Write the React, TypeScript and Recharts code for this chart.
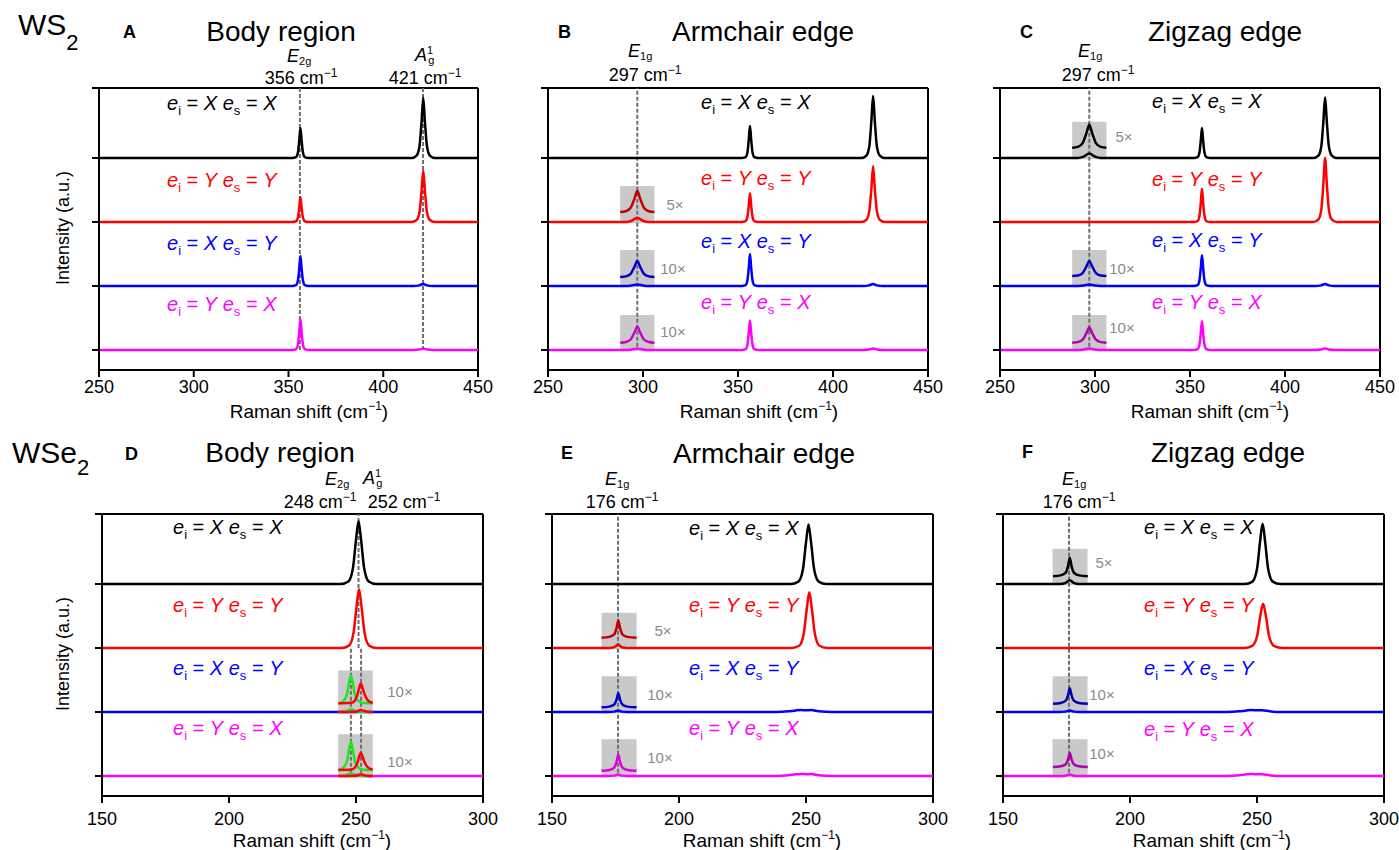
import React from "react";
import { LineChart, Line, XAxis, YAxis, ReferenceArea, ReferenceLine } from "recharts";

type Pt = [number, number];

const FONT = '"Liberation Sans", Arial, Helvetica, sans-serif';

// trace order top -> bottom: XX, YY, XY, YX
const OFFSETS = [3, 2, 1, 0];
const COLORS = ["#000000", "#ff0000", "#0000ff", "#ff00ff"];
const POLS: [string, string][] = [["X", "X"], ["Y", "Y"], ["X", "Y"], ["Y", "X"]];
const Y_MIN = -0.3125;
const Y_MAX = 4.094;
const Y_TICKS = [0, 1, 2, 3, Y_MAX];

const WS2_TICKS = [250, 300, 350, 400, 450];
const WSE2_TICKS = [150, 200, 250, 300];

const WS2_BODY_PEAKS = [356, 421];
const WS2_EDGE_PEAK = 297;
const WSE2_BODY_MAIN = 251;
const WSE2_BODY_PEAKS = [248, 252];
const WSE2_EDGE_PEAK = 176;

// ---- WS2 body (A)
const A_XX: Pt[] = [[250,0],[352,0],[354,0.014],[355,0.089],[355.7,0.28],[356.3,0.47],[356.9,0.28],[357.6,0.089],[358.6,0.014],[360.6,0],[415,0],[417.6,0.038],[419.1,0.18],[420.2,0.56],[421.1,0.94],[422,0.56],[423.1,0.18],[424.6,0.038],[427.2,0],[450,0]];
const A_YY: Pt[] = [[250,0],[352,0],[354,0.012],[355,0.074],[355.7,0.23],[356.3,0.39],[356.9,0.23],[357.6,0.074],[358.6,0.012],[360.6,0],[415,0],[417.6,0.032],[419.1,0.15],[420.2,0.48],[421.1,0.8],[422,0.48],[423.1,0.15],[424.6,0.032],[427.2,0],[450,0]];
const A_XY: Pt[] = [[250,0],[352,0],[354,0.014],[355,0.089],[355.7,0.28],[356.3,0.47],[356.9,0.28],[357.6,0.089],[358.6,0.014],[360.6,0],[416,0],[419,0.01],[421.1,0.03],[423.2,0.01],[426,0],[450,0]];
const A_YX: Pt[] = [[250,0],[352,0],[354,0.014],[355,0.09],[355.7,0.29],[356.3,0.48],[356.9,0.29],[357.6,0.09],[358.6,0.014],[360.6,0],[416,0],[419,0.007],[421.1,0.02],[423.2,0.007],[426,0],[450,0]];

// ---- WS2 armchair edge (B)
const B_XX: Pt[] = [[250,0],[352,0],[354,0.015],[355,0.095],[355.7,0.3],[356.3,0.5],[356.9,0.3],[357.6,0.095],[358.6,0.015],[360.6,0],[415,0],[417.6,0.039],[419.1,0.18],[420.2,0.58],[421.1,0.97],[422,0.58],[423.1,0.18],[424.6,0.039],[427.2,0],[450,0]];
const B_YY: Pt[] = [[250,0],[291,0],[294,0.02],[297,0.066],[300,0.02],[303,0],[352,0],[354,0.014],[355,0.086],[355.7,0.27],[356.3,0.45],[356.9,0.27],[357.6,0.086],[358.6,0.014],[360.6,0],[415,0],[417.6,0.035],[419.1,0.17],[420.2,0.52],[421.1,0.875],[422,0.52],[423.1,0.17],[424.6,0.035],[427.2,0],[450,0]];
const B_XY: Pt[] = [[250,0],[291,0],[294,0.008],[297,0.025],[300,0.008],[303,0],[352,0],[354,0.015],[355,0.095],[355.7,0.3],[356.3,0.5],[356.9,0.3],[357.6,0.095],[358.6,0.015],[360.6,0],[416,0],[419,0.01],[421.1,0.03],[423.2,0.01],[426,0],[450,0]];
const B_YX: Pt[] = [[250,0],[291,0],[294,0.008],[297,0.025],[300,0.008],[303,0],[352,0],[354,0.014],[355,0.087],[355.7,0.28],[356.3,0.46],[356.9,0.28],[357.6,0.087],[358.6,0.014],[360.6,0],[416,0],[419,0.008],[421.1,0.025],[423.2,0.008],[426,0],[450,0]];
const B_YY_5X: Pt[] = [[288,0],[291,0.013],[293.5,0.066],[295.5,0.21],[297,0.33],[298.5,0.21],[300.5,0.066],[303,0.013],[306,0]];
const B_XY_10X: Pt[] = [[288,0],[291,0.01],[293.5,0.05],[295.5,0.16],[297,0.25],[298.5,0.16],[300.5,0.05],[303,0.01],[306,0]];
const B_YX_10X: Pt[] = [[288,0],[291,0.01],[293.5,0.05],[295.5,0.16],[297,0.25],[298.5,0.16],[300.5,0.05],[303,0.01],[306,0]];

// ---- WS2 zigzag edge (C)
const C_XX: Pt[] = [[250,0],[291,0],[294,0.022],[297,0.07],[300,0.022],[303,0],[352,0],[354,0.014],[355,0.089],[355.7,0.28],[356.3,0.47],[356.9,0.28],[357.6,0.089],[358.6,0.014],[360.6,0],[415,0],[417.6,0.038],[419.1,0.18],[420.2,0.57],[421.1,0.95],[422,0.57],[423.1,0.18],[424.6,0.038],[427.2,0],[450,0]];
const C_YY: Pt[] = [[250,0],[352,0],[354,0.016],[355,0.099],[355.7,0.31],[356.3,0.52],[356.9,0.31],[357.6,0.099],[358.6,0.016],[360.6,0],[415,0],[417.6,0.04],[419.1,0.19],[420.2,0.6],[421.1,1.0],[422,0.6],[423.1,0.19],[424.6,0.04],[427.2,0],[450,0]];
const C_XY: Pt[] = [[250,0],[291,0],[294,0.007],[297,0.023],[300,0.007],[303,0],[352,0],[354,0.014],[355,0.091],[355.7,0.29],[356.3,0.48],[356.9,0.29],[357.6,0.091],[358.6,0.014],[360.6,0],[416,0],[419,0.01],[421.1,0.03],[423.2,0.01],[426,0],[450,0]];
const C_YX: Pt[] = [[250,0],[291,0],[294,0.008],[297,0.024],[300,0.008],[303,0],[352,0],[354,0.014],[355,0.086],[355.7,0.27],[356.3,0.45],[356.9,0.27],[357.6,0.086],[358.6,0.014],[360.6,0],[416,0],[419,0.008],[421.1,0.025],[423.2,0.008],[426,0],[450,0]];
const C_XX_5X: Pt[] = [[288,0],[291,0.014],[293.5,0.072],[295.5,0.23],[297,0.36],[298.5,0.23],[300.5,0.072],[303,0.014],[306,0]];
const C_XY_10X: Pt[] = [[288,0],[291,0.009],[293.5,0.047],[295.5,0.15],[297,0.234],[298.5,0.15],[300.5,0.047],[303,0.009],[306,0]];
const C_YX_10X: Pt[] = [[288,0],[291,0.009],[293.5,0.047],[295.5,0.15],[297,0.236],[298.5,0.15],[300.5,0.047],[303,0.009],[306,0]];

// ---- WSe2 body (D)
const D_XX: Pt[] = [[150,0],[244,0],[247,0.04],[248.8,0.25],[250,0.69],[251,0.98],[252,0.69],[253.2,0.25],[255,0.04],[258,0],[300,0]];
const D_YY: Pt[] = [[150,0],[244.2,0],[247.2,0.037],[249,0.23],[250.2,0.64],[251.2,0.92],[252.2,0.64],[253.4,0.23],[255.2,0.037],[258.2,0],[300,0]];
const D_XY: Pt[] = [[150,0],[300,0]];
const D_YX: Pt[] = [[150,0],[300,0]];
const D_XY_E2G: Pt[] = [[243,0],[245.5,0.006],[247,0.03],[248,0.044],[249,0.03],[250.5,0.006],[253,0],[256.6,0]];
const D_XY_A1G: Pt[] = [[243,0],[249.5,0.004],[251,0.022],[251.9,0.031],[252.8,0.022],[254.5,0.004],[256.6,0]];
const D_YX_E2G: Pt[] = [[243,0],[245.5,0.006],[247,0.03],[248,0.044],[249,0.03],[250.5,0.006],[253,0],[256.6,0]];
const D_YX_A1G: Pt[] = [[243,0],[249.5,0.004],[251,0.019],[251.9,0.027],[252.8,0.019],[254.5,0.004],[256.6,0]];
const D_XY_E2G_10X: Pt[] = [[243,0],[245,0.035],[246.5,0.15],[247.3,0.33],[248,0.435],[248.7,0.33],[249.5,0.15],[251,0.035],[253,0.004],[256.6,0]];
const D_XY_A1G_10X: Pt[] = [[243,0],[248,0.008],[249.5,0.04],[250.6,0.14],[251.3,0.25],[251.9,0.31],[252.5,0.25],[253.4,0.14],[254.8,0.04],[256.6,0.008]];
const D_YX_E2G_10X: Pt[] = [[243,0],[245,0.035],[246.5,0.15],[247.3,0.33],[248,0.44],[248.7,0.33],[249.5,0.15],[251,0.035],[253,0.004],[256.6,0]];
const D_YX_A1G_10X: Pt[] = [[243,0],[248,0.007],[249.5,0.035],[250.6,0.12],[251.3,0.22],[251.9,0.27],[252.5,0.22],[253.4,0.12],[254.8,0.035],[256.6,0.007]];

// ---- WSe2 armchair edge (E)
const E_XX: Pt[] = [[150,0],[244,0],[247,0.037],[248.8,0.23],[250,0.65],[251,0.93],[252,0.65],[253.2,0.23],[255,0.037],[258,0],[300,0]];
const E_YY: Pt[] = [[150,0],[172.5,0],[174.5,0.012],[176,0.054],[177.5,0.012],[179.5,0],[244.3,0],[247.3,0.035],[249.1,0.22],[250.3,0.61],[251.3,0.87],[252.3,0.61],[253.5,0.22],[255.3,0.035],[258.3,0],[300,0]];
const E_XY: Pt[] = [[150,0],[172.5,0],[174.5,0.006],[176,0.023],[177.5,0.006],[179.5,0],[238,0],[243,0.01],[246,0.025],[248,0.03],[250,0.028],[252,0.03],[255,0.012],[260,0],[300,0]];
const E_YX: Pt[] = [[150,0],[172.5,0],[174.5,0.006],[176,0.025],[177.5,0.006],[179.5,0],[238,0],[243,0.01],[246,0.026],[248,0.032],[250,0.028],[252,0.03],[255,0.012],[260,0],[300,0]];
const E_YY_5X: Pt[] = [[169.5,0],[172.5,0.014],[174.5,0.054],[175.4,0.15],[176.1,0.27],[176.8,0.15],[177.7,0.054],[179.7,0.014],[183.3,0]];
const E_XY_10X: Pt[] = [[169.5,0],[172.5,0.011],[174.5,0.044],[175.4,0.12],[176.1,0.22],[176.8,0.12],[177.7,0.044],[179.7,0.011],[183.3,0]];
const E_YX_10X: Pt[] = [[169.5,0],[172.5,0.012],[174.5,0.05],[175.4,0.14],[176.1,0.25],[176.8,0.14],[177.7,0.05],[179.7,0.012],[183.3,0]];

// ---- WSe2 zigzag edge (F)
const F_XX: Pt[] = [[150,0],[172.5,0],[174.5,0.013],[176.3,0.058],[178,0.013],[180,0],[245.2,0],[248.2,0.038],[250,0.235],[251.2,0.66],[252.2,0.94],[253.2,0.66],[254.4,0.235],[256.2,0.038],[259.2,0],[300,0]];
const F_YY: Pt[] = [[150,0],[245,0],[248,0.03],[250,0.18],[251.3,0.5],[252.4,0.69],[253.5,0.5],[254.8,0.18],[256.8,0.03],[260,0],[300,0]];
const F_XY: Pt[] = [[150,0],[172.5,0],[174.5,0.006],[176.3,0.024],[178,0.006],[180,0],[238,0],[243,0.01],[246,0.025],[248,0.03],[250,0.026],[252,0.028],[255,0.01],[260,0],[300,0]];
const F_YX: Pt[] = [[150,0],[172.5,0],[174.5,0.005],[176.3,0.022],[178,0.005],[180,0],[238,0],[243,0.01],[246,0.026],[248,0.031],[250,0.026],[252,0.028],[255,0.01],[260,0],[300,0]];
const F_XX_5X: Pt[] = [[169.7,0],[172.7,0.015],[174.7,0.058],[175.6,0.16],[176.3,0.29],[177,0.16],[177.9,0.058],[179.9,0.015],[183.4,0]];
const F_XY_10X: Pt[] = [[169.7,0],[172.7,0.012],[174.7,0.048],[175.6,0.13],[176.3,0.24],[177,0.13],[177.9,0.048],[179.9,0.012],[183.4,0]];
const F_YX_10X: Pt[] = [[169.7,0],[172.7,0.011],[174.7,0.044],[175.6,0.12],[176.3,0.22],[177,0.12],[177.9,0.044],[179.9,0.011],[183.4,0]];

interface Box { trace: number; x1: number; x2: number; h: number }
interface Extra { trace: number; data: Pt[]; color: string; lift: number }
interface Dash { x: number; y1: number; y2: number }
interface PanelDef {
  left: number; top: number; width: number; height: number;
  xDomain: [number, number]; xTicks: number[]; tickMargin: number;
  traces: Pt[][]; boxes: Box[]; extras: Extra[]; dashes: Dash[];
}

const WS2_BOX: [number, number] = [288, 306];
const WSE2_BOX: [number, number] = [169.5, 183.3];
const WSE2_BODY_BOX: [number, number] = [243, 256.6];

const PANELS: PanelDef[] = [
  {
    left: 99, top: 88, width: 379, height: 282, xDomain: [250, 450], xTicks: WS2_TICKS, tickMargin: 3,
    traces: [A_XX, A_YY, A_XY, A_YX], boxes: [], extras: [],
    dashes: WS2_BODY_PEAKS.map((x) => ({ x, y1: 0, y2: Y_MAX })),
  },
  {
    left: 548, top: 88, width: 380, height: 282, xDomain: [250, 450], xTicks: WS2_TICKS, tickMargin: 3,
    traces: [B_XX, B_YY, B_XY, B_YX],
    boxes: [
      { trace: 1, x1: WS2_BOX[0], x2: WS2_BOX[1], h: 0.5625 },
      { trace: 2, x1: WS2_BOX[0], x2: WS2_BOX[1], h: 0.5625 },
      { trace: 3, x1: WS2_BOX[0], x2: WS2_BOX[1], h: 0.547 },
    ],
    extras: [
      { trace: 1, data: B_YY_5X, color: "#c00000", lift: 0.156 },
      { trace: 2, data: B_XY_10X, color: "#0000c8", lift: 0.14 },
      { trace: 3, data: B_YX_10X, color: "#cc00cc", lift: 0.114 },
    ],
    dashes: [{ x: WS2_EDGE_PEAK, y1: 0.05, y2: Y_MAX }],
  },
  {
    left: 1000, top: 88, width: 380, height: 282, xDomain: [250, 450], xTicks: WS2_TICKS, tickMargin: 3,
    traces: [C_XX, C_YY, C_XY, C_YX],
    boxes: [
      { trace: 0, x1: WS2_BOX[0], x2: WS2_BOX[1], h: 0.567 },
      { trace: 2, x1: WS2_BOX[0], x2: WS2_BOX[1], h: 0.5625 },
      { trace: 3, x1: WS2_BOX[0], x2: WS2_BOX[1], h: 0.547 },
    ],
    extras: [
      { trace: 0, data: C_XX_5X, color: "#000000", lift: 0.16 },
      { trace: 2, data: C_XY_10X, color: "#0000c8", lift: 0.156 },
      { trace: 3, data: C_YX_10X, color: "#b000b0", lift: 0.114 },
    ],
    dashes: [{ x: WS2_EDGE_PEAK, y1: 0.05, y2: Y_MAX }],
  },
  {
    left: 102, top: 514, width: 381, height: 282, xDomain: [150, 300], xTicks: WSE2_TICKS, tickMargin: 9,
    traces: [D_XX, D_YY, D_XY, D_YX],
    boxes: [
      { trace: 2, x1: WSE2_BODY_BOX[0], x2: WSE2_BODY_BOX[1], h: 0.65 },
      { trace: 3, x1: WSE2_BODY_BOX[0], x2: WSE2_BODY_BOX[1], h: 0.653 },
    ],
    extras: [
      { trace: 2, data: D_XY_E2G, color: "#1ee61e", lift: 0 },
      { trace: 2, data: D_XY_A1G, color: "#ff0000", lift: 0 },
      { trace: 3, data: D_YX_E2G, color: "#1ee61e", lift: 0 },
      { trace: 3, data: D_YX_A1G, color: "#ff0000", lift: 0 },
      { trace: 2, data: D_XY_E2G_10X, color: "#1ee61e", lift: 0.135 },
      { trace: 2, data: D_XY_A1G_10X, color: "#ff0000", lift: 0.135 },
      { trace: 3, data: D_YX_E2G_10X, color: "#1ee61e", lift: 0.093 },
      { trace: 3, data: D_YX_A1G_10X, color: "#ff0000", lift: 0.093 },
    ],
    dashes: [
      { x: WSE2_BODY_MAIN, y1: 2, y2: Y_MAX },
      ...WSE2_BODY_PEAKS.map((x) => ({ x, y1: 0.05, y2: 2 })),
    ],
  },
  {
    left: 552, top: 514, width: 381, height: 282, xDomain: [150, 300], xTicks: WSE2_TICKS, tickMargin: 9,
    traces: [E_XX, E_YY, E_XY, E_YX],
    boxes: [
      { trace: 1, x1: WSE2_BOX[0], x2: WSE2_BOX[1], h: 0.55 },
      { trace: 2, x1: WSE2_BOX[0], x2: WSE2_BOX[1], h: 0.56 },
      { trace: 3, x1: WSE2_BOX[0], x2: WSE2_BOX[1], h: 0.575 },
    ],
    extras: [
      { trace: 1, data: E_YY_5X, color: "#c00000", lift: 0.16 },
      { trace: 2, data: E_XY_10X, color: "#0000c8", lift: 0.073 },
      { trace: 3, data: E_YX_10X, color: "#e000e0", lift: 0.082 },
    ],
    dashes: [{ x: WSE2_EDGE_PEAK, y1: 0.05, y2: Y_MAX }],
  },
  {
    left: 1003, top: 514, width: 381, height: 282, xDomain: [150, 300], xTicks: WSE2_TICKS, tickMargin: 9,
    traces: [F_XX, F_YY, F_XY, F_YX],
    boxes: [
      { trace: 0, x1: WSE2_BOX[0], x2: WSE2_BOX[1], h: 0.55 },
      { trace: 2, x1: WSE2_BOX[0], x2: WSE2_BOX[1], h: 0.56 },
      { trace: 3, x1: WSE2_BOX[0], x2: WSE2_BOX[1], h: 0.575 },
    ],
    extras: [
      { trace: 0, data: F_XX_5X, color: "#000000", lift: 0.12 },
      { trace: 2, data: F_XY_10X, color: "#0000b0", lift: 0.13 },
      { trace: 3, data: F_YX_10X, color: "#b000b0", lift: 0.14 },
    ],
    dashes: [{ x: WSE2_EDGE_PEAK, y1: 0.05, y2: Y_MAX }],
  },
];

const shift = (pts: Pt[], dy: number) => pts.map(([x, y]) => ({ x, y: y + dy }));

function Panel({ p }: { p: PanelDef }) {
  const axisStyle = { stroke: "#000", strokeWidth: 2 };
  return (
    <div style={{ position: "absolute", left: p.left - 60, top: p.top - 10 }}>
      <LineChart
        width={p.width + 80}
        height={p.height + 70}
        margin={{ top: 10, right: 20, bottom: 0, left: 0 }}
      >
        <XAxis
          type="number"
          dataKey="x"
          domain={p.xDomain}
          ticks={p.xTicks}
          interval={0}
          allowDataOverflow
          height={60}
          axisLine={axisStyle}
          tickLine={axisStyle}
          tickSize={7}
          tickMargin={p.tickMargin}
          tick={{ fill: "#000", fontSize: 18, fontFamily: FONT }}
        />
        <YAxis
          type="number"
          domain={[Y_MIN, Y_MAX]}
          ticks={Y_TICKS}
          interval={0}
          allowDataOverflow
          width={60}
          axisLine={axisStyle}
          tickLine={axisStyle}
          tickSize={7}
          tickFormatter={() => ""}
        />
        <ReferenceLine y={Y_MAX} stroke="#000" strokeWidth={2} />
        <ReferenceLine x={p.xDomain[1]} stroke="#000" strokeWidth={2} />
        {p.boxes.map((b, i) => (
          <ReferenceArea
            key={"box" + i}
            x1={b.x1}
            x2={b.x2}
            y1={OFFSETS[b.trace] - 0.02}
            y2={OFFSETS[b.trace] + b.h}
            fill="#c9c9c9"
            fillOpacity={1}
            stroke="none"
          />
        ))}
        {p.dashes.map((d, i) => (
          <Line
            key={"dash" + i}
            data={[{ x: d.x, y: d.y1 }, { x: d.x, y: d.y2 }]}
            dataKey="y"
            type="linear"
            stroke="#6e6e6e"
            strokeWidth={2}
            strokeDasharray="4 2"
            dot={false}
            activeDot={false}
            isAnimationActive={false}
          />
        ))}
        {p.traces.map((t, i) => (
          <Line
            key={"tr" + i}
            data={shift(t, OFFSETS[i])}
            dataKey="y"
            type="monotone"
            stroke={COLORS[i]}
            strokeWidth={2.5}
            dot={false}
            activeDot={false}
            isAnimationActive={false}
          />
        ))}
        {p.extras.map((e, i) => (
          <Line
            key={"ex" + i}
            data={shift(e.data, OFFSETS[e.trace] + e.lift)}
            dataKey="y"
            type="monotone"
            stroke={e.color}
            strokeWidth={2.5}
            dot={false}
            activeDot={false}
            isAnimationActive={false}
          />
        ))}
      </LineChart>
    </div>
  );
}

function Pol({ x, y, i }: { x: number; y: number; i: number }) {
  const [a, b] = POLS[i];
  return (
    <text x={x} y={y} fill={COLORS[i]} fontSize={20} fontFamily={FONT}>
      <tspan fontStyle="italic">e</tspan>
      <tspan fontSize={13} dy={5}>i</tspan>
      <tspan dy={-5}>{" = "}</tspan>
      <tspan fontStyle="italic">{a}</tspan>
      <tspan>{" "}</tspan>
      <tspan fontStyle="italic">e</tspan>
      <tspan fontSize={13} dy={5}>s</tspan>
      <tspan dy={-5}>{" = "}</tspan>
      <tspan fontStyle="italic">{b}</tspan>
    </text>
  );
}

function Wn({ x, y, v }: { x: number; y: number; v: number }) {
  return (
    <text x={x} y={y} textAnchor="middle" fontSize={18} fontFamily={FONT}>
      {v} cm<tspan fontSize={12} dy={-7}>−1</tspan>
    </text>
  );
}

function Mode({ x, y, sub }: { x: number; y: number; sub: string }) {
  return (
    <text x={x} y={y} fontSize={18} fontFamily={FONT}>
      <tspan fontStyle="italic">E</tspan>
      <tspan fontSize={11} dy={3}>{sub}</tspan>
    </text>
  );
}

function A1g({ x, y }: { x: number; y: number }) {
  return (
    <text x={x} y={y} fontSize={18} fontFamily={FONT}>
      <tspan fontStyle="italic">A</tspan>
      <tspan fontSize={11} dy={-7}>1</tspan>
      <tspan fontSize={11} dx={-5} dy={10}>g</tspan>
    </text>
  );
}

const POL_POS: { x: number; ys: number[] }[] = [
  { x: 167, ys: [110, 187, 250, 311] },
  { x: 701, ys: [109, 185, 248, 309] },
  { x: 1152, ys: [108, 186, 247, 309] },
  { x: 173, ys: [534, 612, 675, 735] },
  { x: 689, ys: [535, 612, 675, 735] },
  { x: 1144, ys: [534, 612, 675, 736] },
];

const MAG_LABELS: { x: number; y: number; t: string }[] = [
  { x: 675, y: 210, t: "5×" }, { x: 673, y: 274, t: "10×" }, { x: 673, y: 337, t: "10×" },
  { x: 1124, y: 142, t: "5×" }, { x: 1122, y: 274, t: "10×" }, { x: 1122, y: 333, t: "10×" },
  { x: 400, y: 697, t: "10×" }, { x: 400, y: 767, t: "10×" },
  { x: 663, y: 636, t: "5×" }, { x: 660, y: 700, t: "10×" }, { x: 660, y: 763, t: "10×" },
  { x: 1104, y: 568, t: "5×" }, { x: 1102, y: 700, t: "10×" }, { x: 1102, y: 759, t: "10×" },
];

const TITLES: { x: number; y: number; t: string; letter: string; lx: number; ly: number }[] = [
  { x: 281, y: 41, t: "Body region", letter: "A", lx: 123, ly: 38 },
  { x: 763, y: 41, t: "Armchair edge", letter: "B", lx: 558, ly: 38 },
  { x: 1225, y: 41, t: "Zigzag edge", letter: "C", lx: 1020, ly: 38 },
  { x: 280, y: 462, t: "Body region", letter: "D", lx: 125, ly: 460 },
  { x: 764, y: 463, t: "Armchair edge", letter: "E", lx: 561, ly: 459 },
  { x: 1228, y: 462, t: "Zigzag edge", letter: "F", lx: 1022, ly: 458 },
];

const XLABELS: { x: number; y: number }[] = [
  { x: 309, y: 418 }, { x: 759, y: 418 }, { x: 1210, y: 418 },
  { x: 312, y: 847 }, { x: 762, y: 847 }, { x: 1212, y: 847 },
];

export default function App() {
  return (
    <div style={{ position: "absolute", left: 0, top: 0, width: 1399, height: 850, background: "#fff", overflow: "hidden" }}>
      {PANELS.map((p, i) => (
        <Panel key={i} p={p} />
      ))}
      <svg width={1399} height={850} style={{ position: "absolute", left: 0, top: 0, pointerEvents: "none" }}>
        <text x={18} y={35} fontSize={30} fontFamily={FONT}>
          WS<tspan fontSize={22} dy={15}>2</tspan>
        </text>
        <text x={12} y={463} fontSize={30} fontFamily={FONT}>
          WSe<tspan fontSize={22} dy={12}>2</tspan>
        </text>
        {TITLES.map((t, i) => (
          <g key={"t" + i}>
            <text x={t.lx} y={t.ly} fontSize={18} fontWeight="bold" fontFamily={FONT}>{t.letter}</text>
            <text x={t.x} y={t.y} fontSize={28} textAnchor="middle" fontFamily={FONT}>{t.t}</text>
          </g>
        ))}
        {XLABELS.map((l, i) => (
          <text key={"xl" + i} x={l.x} y={l.y} textAnchor="middle" fontSize={19} fontFamily={FONT}>
            Raman shift (cm<tspan fontSize={12} dy={-8}>−1</tspan><tspan dy={8}>)</tspan>
          </text>
        ))}
        {[228, 654].map((cy, i) => (
          <text key={"yl" + i} x={69} y={cy} textAnchor="middle" fontSize={18} fontFamily={FONT} transform={`rotate(-90 69 ${cy})`}>
            Intensity (a.u.)
          </text>
        ))}
        {/* peak annotations */}
        <Mode x={287} y={62} sub="2g" />
        <Wn x={301} y={84} v={356} />
        <A1g x={415} y={61} />
        <Wn x={425} y={84} v={421} />
        <Mode x={628} y={57} sub="1g" />
        <Wn x={645} y={81} v={297} />
        <Mode x={1078} y={57} sub="1g" />
        <Wn x={1098} y={81} v={297} />
        <Mode x={325} y={485} sub="2g" />
        <A1g x={363} y={484} />
        <Wn x={320} y={508} v={248} />
        <Wn x={404} y={508} v={252} />
        <Mode x={605} y={485} sub="1g" />
        <Wn x={622} y={508} v={176} />
        <Mode x={1062} y={485} sub="1g" />
        <Wn x={1079} y={508} v={176} />
        {MAG_LABELS.map((m, i) => (
          <text key={"m" + i} x={m.x} y={m.y} textAnchor="middle" fontSize={15} fill="#8a8a8a" fontFamily={FONT}>{m.t}</text>
        ))}
        {POL_POS.map((pp, pi) =>
          pp.ys.map((y, i) => <Pol key={`p${pi}-${i}`} x={pp.x} y={y} i={i} />)
        )}
      </svg>
    </div>
  );
}
